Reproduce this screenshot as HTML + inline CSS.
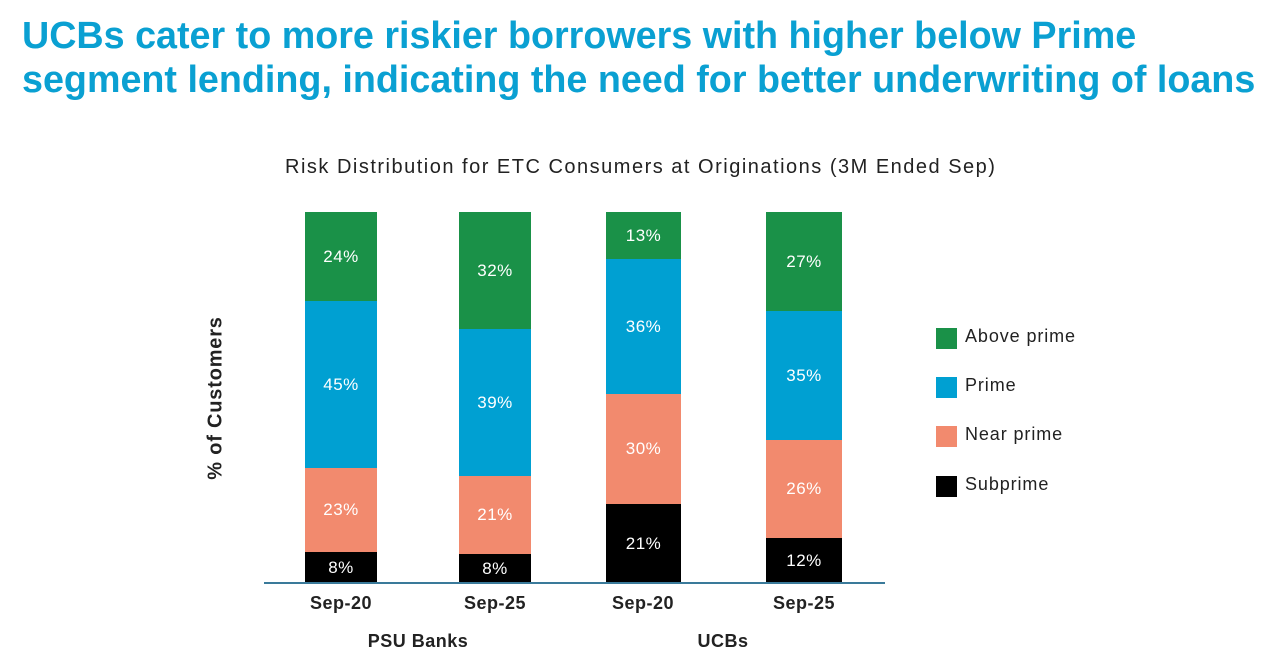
<!DOCTYPE html>
<html><head><meta charset="utf-8"><style>
body{margin:0;width:1268px;height:654px;background:#fff;position:relative;overflow:hidden;font-family:"Liberation Sans",sans-serif}
.a{position:absolute}
.t{color:#0aa0d2;font-weight:bold;font-size:37.7px;left:22px;line-height:46px;white-space:nowrap}
.s{position:absolute;display:flex;align-items:center;justify-content:center;color:#fff;font-size:17px;letter-spacing:0.5px}
.g{background:#1a9148}.b{background:#00a0d2}.n{background:#f28a6e}.k{background:#000}
.lab{position:absolute;font-size:18px;font-weight:bold;color:#222;text-align:center;width:120px;letter-spacing:0.5px}
.lg{position:absolute;left:936px;width:21px;height:21px}
.lt{position:absolute;left:965px;font-size:18px;color:#222;letter-spacing:0.9px}
</style></head><body>
<div class="a t" style="top:12px">UCBs cater to more riskier borrowers with higher below Prime</div>
<div class="a t" style="top:56px">segment lending, indicating the need for better underwriting of loans</div>
<div class="a" style="left:285px;top:156px;font-size:20px;color:#222;letter-spacing:1.5px;white-space:nowrap">Risk Distribution for ETC Consumers at Originations (3M Ended Sep)</div>
<div class="a" style="left:216px;top:398px;font-size:20px;font-weight:bold;color:#222;transform:translate(-50%,-50%) rotate(-90deg);white-space:nowrap;letter-spacing:0.8px">% of Customers</div>

<div class="s g" style="left:305px;width:72px;top:212px;height:89px">24%</div>
<div class="s b" style="left:305px;width:72px;top:301px;height:167px">45%</div>
<div class="s n" style="left:305px;width:72px;top:468px;height:84px">23%</div>
<div class="s k" style="left:305px;width:72px;top:552px;height:31px">8%</div>

<div class="s g" style="left:459px;width:72px;top:212px;height:117px">32%</div>
<div class="s b" style="left:459px;width:72px;top:329px;height:147px">39%</div>
<div class="s n" style="left:459px;width:72px;top:476px;height:78px">21%</div>
<div class="s k" style="left:459px;width:72px;top:554px;height:29px">8%</div>

<div class="s g" style="left:606px;width:75px;top:212px;height:47px">13%</div>
<div class="s b" style="left:606px;width:75px;top:259px;height:135px">36%</div>
<div class="s n" style="left:606px;width:75px;top:394px;height:110px">30%</div>
<div class="s k" style="left:606px;width:75px;top:504px;height:79px">21%</div>

<div class="s g" style="left:766px;width:76px;top:212px;height:99px">27%</div>
<div class="s b" style="left:766px;width:76px;top:311px;height:129px">35%</div>
<div class="s n" style="left:766px;width:76px;top:440px;height:98px">26%</div>
<div class="s k" style="left:766px;width:76px;top:538px;height:45px">12%</div>

<div class="a" style="left:264px;top:582px;width:621px;height:2px;background:#3a7a9a"></div>

<div class="lab" style="left:281px;top:593px">Sep-20</div>
<div class="lab" style="left:435px;top:593px">Sep-25</div>
<div class="lab" style="left:583px;top:593px">Sep-20</div>
<div class="lab" style="left:744px;top:593px">Sep-25</div>
<div class="lab" style="left:358px;top:631px">PSU Banks</div>
<div class="lab" style="left:663px;top:631px">UCBs</div>

<div class="lg g" style="top:328px"></div><div class="lt" style="top:326px">Above prime</div>
<div class="lg b" style="top:377px"></div><div class="lt" style="top:375px">Prime</div>
<div class="lg n" style="top:426px"></div><div class="lt" style="top:424px">Near prime</div>
<div class="lg k" style="top:476px"></div><div class="lt" style="top:474px">Subprime</div>
</body></html>
